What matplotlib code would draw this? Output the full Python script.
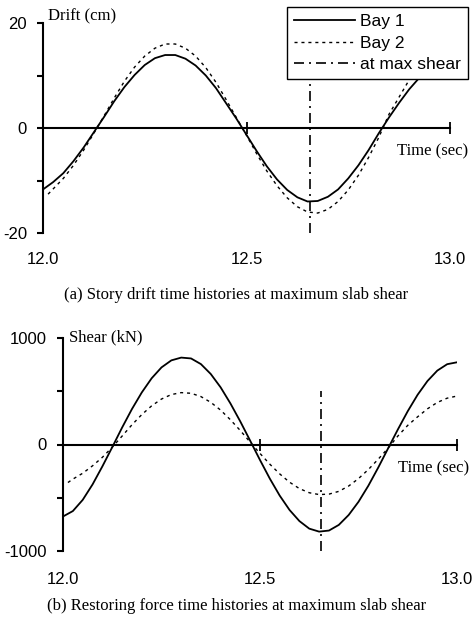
import matplotlib
matplotlib.use("Agg")
import matplotlib.pyplot as plt

# Time grid (sec)
time = [12.0, 12.025, 12.05, 12.075, 12.1, 12.125, 12.15, 12.175, 12.2, 12.225,
        12.25, 12.275, 12.3, 12.325, 12.35, 12.375, 12.4, 12.425, 12.45, 12.475,
        12.5, 12.525, 12.55, 12.575, 12.6, 12.625, 12.65, 12.675, 12.7, 12.725,
        12.75, 12.775, 12.8, 12.825, 12.85, 12.875, 12.9, 12.925, 12.95, 12.975, 13.0]
# Bay 2 curves start a little after 12.0
time_b2 = [12.0125] + time[1:]

# (a) story drift (cm)
drift_bay1 = [-11.7, -10.3, -8.6, -6.3, -3.7, -0.8, 2.1, 5.1, 7.8, 10.1,
              12.0, 13.3, 13.9, 13.9, 13.2, 11.9, 10.0, 7.6, 4.7, 1.8,
              -1.3, -4.4, -7.3, -9.8, -11.8, -13.2, -14.0, -13.9, -13.1, -11.7,
              -9.6, -7.1, -4.2, -1.0, 2.0, 4.8, 7.4, 9.6, 11.3, 12.4, 13.0]
drift_bay2 = [-12.6, -11.6, -9.6, -7.1, -4.2, -1.0, 2.3, 5.7, 8.9, 11.6,
              13.7, 15.2, 16.0, 16.0, 15.2, 13.7, 11.5, 8.7, 5.4, 2.0,
              -1.4, -4.9, -8.2, -11.0, -13.3, -15.0, -16.0, -16.2, -15.5, -14.0,
              -11.8, -9.0, -5.6, -1.8, 2.6, 5.9, 9.2, 12.0, 13.9, 15.1, 15.6]

# (b) restoring force / slab shear (kN)
shear_bay1 = [-676, -625, -520, -375, -205, -25, 159, 333, 489, 622,
              724, 790, 816, 808, 755, 662, 537, 385, 216, 36,
              -146, -321, -480, -615, -719, -790, -818, -808, -755, -662,
              -538, -387, -217, -37, 142, 313, 467, 596, 694, 754, 772]
shear_bay2 = [-357, -325, -270, -200, -120, -25, 79, 185, 281, 363,
              427, 469, 487, 481, 450, 396, 323, 232, 131, 22,
              -84, -185, -276, -354, -414, -453, -470, -466, -440, -390,
              -320, -235, -138, -35, 80, 180, 260, 335, 395, 435, 455]

t_max_shear = 12.655
drift_marker = [-20, 20]
shear_marker = [-1000, 500]

x_ticks = [12.0, 12.5, 13.0]
drift_ticks = [-20, -10, 0, 10, 20]
drift_labels = ['-20', '', '0', '', '20']
shear_ticks = [-1000, -500, 0, 500, 1000]
shear_labels = ['-1000', '', '0', '', '1000']

SANS = 'Liberation Sans'
SERIF = 'Liberation Serif'
plt.rcParams['font.family'] = SANS

solid = dict(color='black', lw=1.3, linestyle='-')
dotted = dict(color='black', lw=1.0, linestyle=(0, (2.2, 2.8)))
dashdot = dict(color='black', lw=1.2, linestyle=(0, (6, 3, 1.2, 3)))

fig = plt.figure(figsize=(4.73, 6.25), dpi=100)
ax1 = fig.add_axes([0.0909, 0.6272, 0.8605, 0.3360])
ax2 = fig.add_axes([0.1332, 0.1184, 0.8330, 0.3408])


def style_axes(ax, yticks, ylabels, ylim, xpad):
    ax.set_xlim(12.0, 13.0)
    ax.set_ylim(*ylim)
    for s in ['top', 'right']:
        ax.spines[s].set_visible(False)
    ax.spines['bottom'].set_position(('data', 0))
    ax.spines['left'].set_linewidth(1.5)
    ax.spines['bottom'].set_linewidth(1.5)
    ax.set_xticks(x_ticks)
    ax.tick_params(axis='x', direction='inout', length=9, width=1.3, labelbottom=False)
    ax.set_yticks(yticks)
    ax.set_yticklabels(ylabels)
    ax.tick_params(axis='y', direction='out', length=4, width=1.5, pad=7.5, labelsize=12)
    # tick labels sit at the bottom of the frame, not on the zero line
    sec = ax.secondary_xaxis('bottom')
    sec.spines['bottom'].set_visible(False)
    sec.set_xticks(x_ticks)
    sec.set_xticklabels(['%.1f' % v for v in x_ticks])
    sec.tick_params(length=0, pad=xpad, labelsize=12)


# (a) drift
l1, = ax1.plot(time, drift_bay1, label='Bay 1', **solid)
l2, = ax1.plot(time_b2, drift_bay2, label='Bay 2', **dotted)
l3, = ax1.plot([t_max_shear, t_max_shear], drift_marker, label='at max shear', **dashdot)
style_axes(ax1, drift_ticks, drift_labels, (-20, 20), 14)
ax1.annotate('Drift (cm)', xy=(0, 1), xycoords='axes fraction', xytext=(3.5, 2),
             textcoords='offset points', ha='left', va='baseline',
             fontsize=12, family=SERIF)
ax1.annotate('Time (sec)', xy=(13.0, 0), xycoords='data', xytext=(13, -19.5),
             textcoords='offset points', ha='right', va='baseline',
             fontsize=12, family=SERIF)
leg = ax1.legend(handles=[l1, l2, l3], loc='upper right',
                 bbox_to_anchor=(0.989, 0.989), bbox_transform=fig.transFigure,
                 borderaxespad=0, fancybox=False, framealpha=1, edgecolor='black',
                 fontsize=12.5, handlelength=3.5, handletextpad=0.3,
                 labelspacing=0.38, borderpad=0.4)
leg.get_frame().set_linewidth(1.0)

# (b) shear
ax2.plot(time, shear_bay1, **solid)
ax2.plot(time_b2, shear_bay2, **dotted)
ax2.plot([t_max_shear, t_max_shear], shear_marker, **dashdot)
style_axes(ax2, shear_ticks, shear_labels, (-1000, 1000), 15)
ax2.annotate('Shear (kN)', xy=(0, 1), xycoords='axes fraction', xytext=(4.5, -2.5),
             textcoords='offset points', ha='left', va='baseline',
             fontsize=12, family=SERIF)
ax2.annotate('Time (sec)', xy=(13.0, 0), xycoords='data', xytext=(9, -20),
             textcoords='offset points', ha='right', va='baseline',
             fontsize=12, family=SERIF)

fig.text(0.5, 0.521, '(a) Story drift time histories at maximum slab shear',
         ha='center', va='baseline', fontsize=12, family=SERIF)
fig.text(0.5, 0.024, '(b) Restoring force time histories at maximum slab shear',
         ha='center', va='baseline', fontsize=12, family=SERIF)

fig.savefig('out.png', dpi=100)
